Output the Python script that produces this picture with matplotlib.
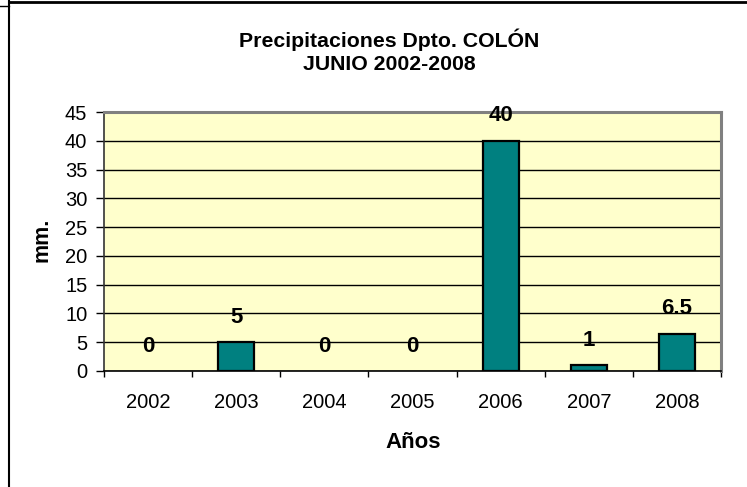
import matplotlib
matplotlib.use("Agg")
import matplotlib.pyplot as plt
from matplotlib.lines import Line2D

years = ["2002", "2003", "2004", "2005", "2006", "2007", "2008"]
values = [0, 5, 0, 0, 40, 1, 6.5]
labels = ["0", "5", "0", "0", "40", "1", "6.5"]
yticks = [0, 5, 10, 15, 20, 25, 30, 35, 40, 45]

plt.rcParams['font.family'] = ['Liberation Sans', 'DejaVu Sans']

W, H = 747, 487
fig = plt.figure(figsize=(W / 100, H / 100), dpi=100)
fig.patch.set_facecolor('white')

left, right, top, bottom = 104, 721, 112, 371
ax = fig.add_axes([left / W, 1 - bottom / H, (right - left) / W, (bottom - top) / H])
ax.set_facecolor('#FFFFCC')

x = list(range(len(years)))
edge_widths = [1.6 if v > 0 else 0 for v in values]
ax.bar(x, values, width=0.41, color='#008080', edgecolor='black', linewidth=edge_widths, zorder=3)

ax.set_xlim(-0.5, len(years) - 0.5)
ax.set_ylim(0, 45)
ax.set_yticks(yticks)
ax.set_yticklabels([str(t) for t in yticks], fontsize=14.5)
ax.yaxis.grid(True, color='black', linewidth=1.0, zorder=1)
ax.set_axisbelow(True)

ax.set_xticks(x)
ax.set_xticklabels(years, fontsize=14.5)
ax.tick_params(axis='x', which='major', length=0, pad=16)
ax.set_xticks([i - 0.5 for i in range(len(years) + 1)], minor=True)
ax.tick_params(axis='x', which='minor', length=4.5, width=1, color='black', direction='out')
ax.tick_params(axis='y', length=6, width=1, color='black', pad=6)

for s in ['top', 'right']:
    ax.spines[s].set_color('#808080')
    ax.spines[s].set_linewidth(2.2)
ax.spines['left'].set_color('#333333')
ax.spines['left'].set_linewidth(1.2)
ax.spines['bottom'].set_color('black')
ax.spines['bottom'].set_linewidth(1.2)

for xi, v, lab in zip(x, values, labels):
    ax.annotate(lab, (xi, v), xytext=(0, 18), textcoords='offset points',
                ha='center', va='center', fontsize=16, fontweight='bold', zorder=5)

fig.text(389 / W, 1 - 40 / H, "Precipitaciones Dpto. COLÓN", ha='center', va='center',
         fontsize=15.3, fontweight='bold')
fig.text(389 / W, 1 - 64 / H, "JUNIO 2002-2008", ha='center', va='center',
         fontsize=15.3, fontweight='bold')

fig.text(42 / W, 1 - 240 / H, "mm.", rotation=90, ha='center', va='center',
         fontsize=15.5, fontweight='bold')
fig.text(413 / W, 1 - 442 / H, "Años", ha='center', va='center',
         fontsize=16, fontweight='bold')

# outer chart border
fig.add_artist(Line2D([8.5 / W, 8.5 / W], [0, 1], transform=fig.transFigure, color='black', linewidth=1.5))
fig.add_artist(Line2D([8.5 / W, 1], [1 - 1.5 / H, 1 - 1.5 / H], transform=fig.transFigure, color='black', linewidth=2))
fig.add_artist(Line2D([0, 8.5 / W], [1 - 6 / H, 1 - 6 / H], transform=fig.transFigure, color='black', linewidth=1))

fig.savefig("out.png", dpi=100)
